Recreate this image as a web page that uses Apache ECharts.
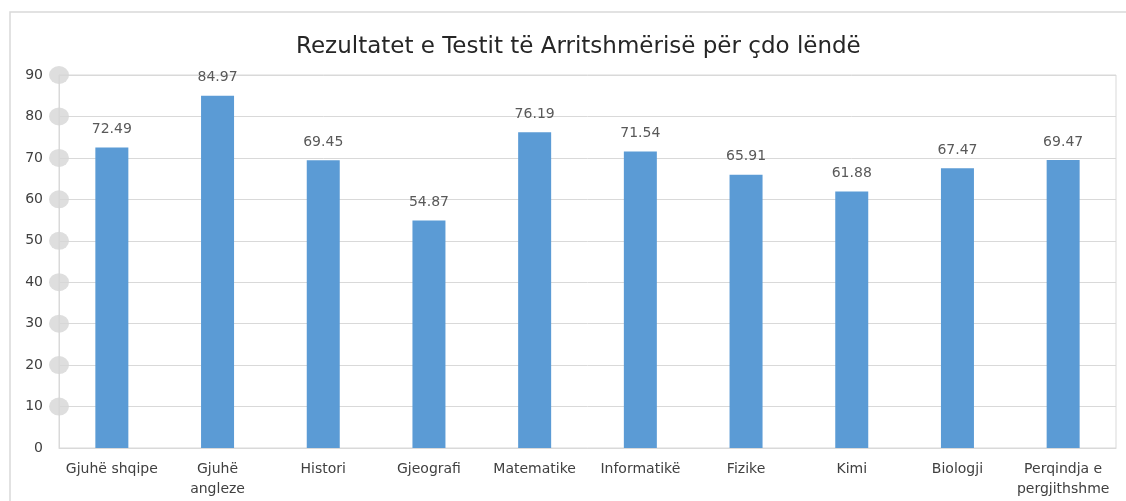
<!DOCTYPE html>
<html>
<head>
    <meta charset="UTF-8">
    <title>Rezultatet e Testit</title>
    <script src="https://cdn.jsdelivr.net/npm/echarts@6/dist/echarts.min.js"></script>
    <style>
        body { margin: 0; background: #fff; }
    </style>
</head>
<body>
    <div id="bar" style="width:1126px; height:501px;"></div>

    <script>
        // te dhenat
        var subjects = ['Gjuhë shqipe', 'Gjuhë\nangleze', 'Histori', 'Gjeografi', 'Matematike',
                        'Informatikë', 'Fizike', 'Kimi', 'Biologji', 'Perqindja e\npergjithshme'];
        var scores = [72.49, 84.97, 69.45, 54.87, 76.19, 71.54, 65.91, 61.88, 67.47, 69.47];
        var yTicks = [10, 20, 30, 40, 50, 60, 70, 80, 90];

        var chart = echarts.init(document.getElementById('bar'), null, {renderer: 'canvas'});

        var font = '"DejaVu Sans", "Noto Sans", sans-serif';

        chart.setOption({
            animation: false,
            backgroundColor: '#fff',
            graphic: [{
                type: 'rect',
                shape: {x: 10, y: 12, width: 1130, height: 500},
                style: {fill: 'none', stroke: '#d9d9d9', lineWidth: 1.5},
                silent: true
            }],
            title: {
                text: 'Rezultatet e Testit të Arritshmërisë për çdo lëndë',
                left: 291,
                top: 31,
                textStyle: {fontFamily: font, fontSize: 23, fontWeight: 'normal', color: '#262626'}
            },
            grid: {
                left: 59, right: 10, top: 75, bottom: 53,
                show: true, borderColor: '#d9d9d9', borderWidth: 1
            },
            xAxis: [{
                type: 'category',
                data: subjects,
                axisLine: {lineStyle: {color: '#d9d9d9'}},
                axisTick: {show: false},
                axisLabel: {fontFamily: font, fontSize: 14, color: '#404040', margin: 11, lineHeight: 20, interval: 0}
            }, {
                type: 'value',
                min: 0, max: 1,
                show: false
            }],
            yAxis: {
                type: 'value',
                min: 0, max: 90, interval: 10,
                axisLine: {show: true, lineStyle: {color: '#d9d9d9'}},
                axisTick: {show: false},
                splitLine: {lineStyle: {color: '#d9d9d9'}},
                axisLabel: {fontFamily: font, fontSize: 14, color: '#404040', margin: 16}
            },
            series: [{
                type: 'bar',
                data: scores,
                barWidth: 33,
                itemStyle: {color: '#5b9bd5'},
                label: {
                    show: true, position: 'top', distance: 11,
                    fontFamily: font, fontSize: 14, color: '#595959'
                }
            }, {
                // rrathet gri te boshtit y
                type: 'scatter',
                xAxisIndex: 1,
                data: yTicks.map(function (v) { return [0, v]; }),
                symbol: 'circle',
                symbolSize: [20, 18],
                itemStyle: {color: '#d6d6d6'},
                silent: true,
                z: 5
            }]
        });
    </script>
</body>
</html>
